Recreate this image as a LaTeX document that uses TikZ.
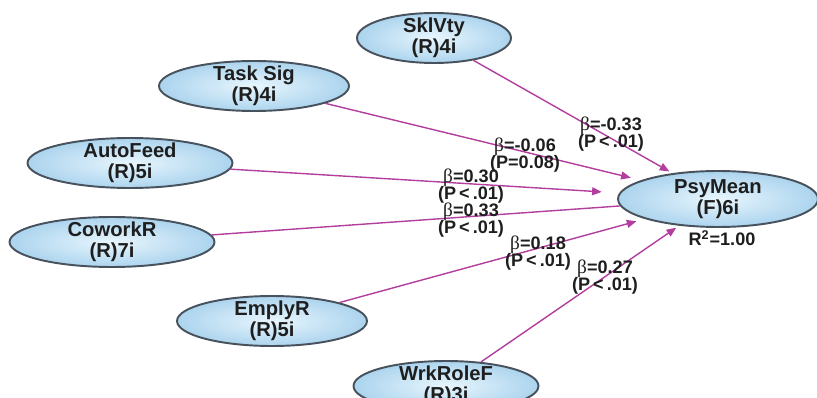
\documentclass[tikz,border=0pt]{standalone}
\usepackage{fontspec}
\setmainfont{Liberation Sans}
\newfontfamily\betafont{Liberation Serif}
\usetikzlibrary{shapes.geometric,arrows.meta}

\definecolor{linkcol}{RGB}{178,62,158}
\definecolor{rimcol}{RGB}{72,82,92}
\definecolor{inkcol}{RGB}{30,30,30}
\definecolor{fillin}{RGB}{232,246,253}
\definecolor{fillout}{RGB}{172,212,238}

\newcommand{\bet}{{\betafont\mdseries\fontsize{11}{10}\selectfont β}}

\tikzset{
  construct/.style={ellipse,draw=rimcol,line width=1.1pt,inner color=fillin,outer color=fillout,
    align=center,inner xsep=0pt,inner ysep=-3pt,minimum height=1.0cm,text=inkcol,
    font=\fontsize{11.5}{12}\selectfont\bfseries},
  link/.style={draw=linkcol,line width=0.8pt,-{Triangle[length=5.5pt,width=4.5pt]},shorten >=2pt},
  coef/.style={align=center,text=inkcol,inner sep=0pt,font=\fontsize{10.3}{10}\selectfont\bfseries}
}

\begin{document}
\begin{tikzpicture}[x=0.02cm,y=-0.02cm]
\useasboundingbox (0,0) rectangle (817,398);
% constructs
\node[construct,minimum width=3.08cm] (sklvty) at (434,38) {SklVty\\(R)4i};
\node[construct,minimum width=3.8cm] (tasksig) at (254,86) {Task Sig\\(R)4i};
\node[construct,minimum width=4.1cm] (autofeed) at (130,163) {AutoFeed\\(R)5i};
\node[construct,minimum width=4.1cm] (coworkr) at (112,242) {CoworkR\\(R)7i};
\node[construct,minimum width=3.8cm] (emplyr) at (272,321) {EmplyR\\(R)5i};
\node[construct,minimum width=3.7cm] (wrkrolef) at (446,386) {WrkRoleF\\(R)3i};
\node[construct,minimum width=4.0cm,minimum height=1.12cm] (psymean) at (718,199) {PsyMean\\(F)6i};
\node[coef] (rsq) at (722,238) {R\textsuperscript{2}=1.00};
% paths
\draw[link] (sklvty) -- (psymean);
\draw[link,shorten >=6pt] (tasksig) -- (psymean);
\draw[link,shorten >=10pt] (autofeed) -- (psymean);
\draw[draw=linkcol,line width=0.8pt] (coworkr) -- (psymean);
\draw[link,shorten >=5pt] (emplyr) -- (psymean);
\draw[link] (wrkrolef) -- (psymean);
% coefficients
\node[coef] (c1) at (611,134) {\bet=-0.33\\(P\,<\,.01)};
\node[coef] (c2) at (525,155) {\bet=-0.06\\(P=0.08)};
\node[coef] (c3) at (471,186) {\bet=0.30\\(P\,<\,.01)};
\node[coef] (c4) at (471,220) {\bet=0.33\\(P\,<\,.01)};
\node[coef] (c5) at (538,253) {\bet=0.18\\(P\,<\,.01)};
\node[coef] (c6) at (605,277) {\bet=0.27\\(P\,<\,.01)};
\end{tikzpicture}
\end{document}
